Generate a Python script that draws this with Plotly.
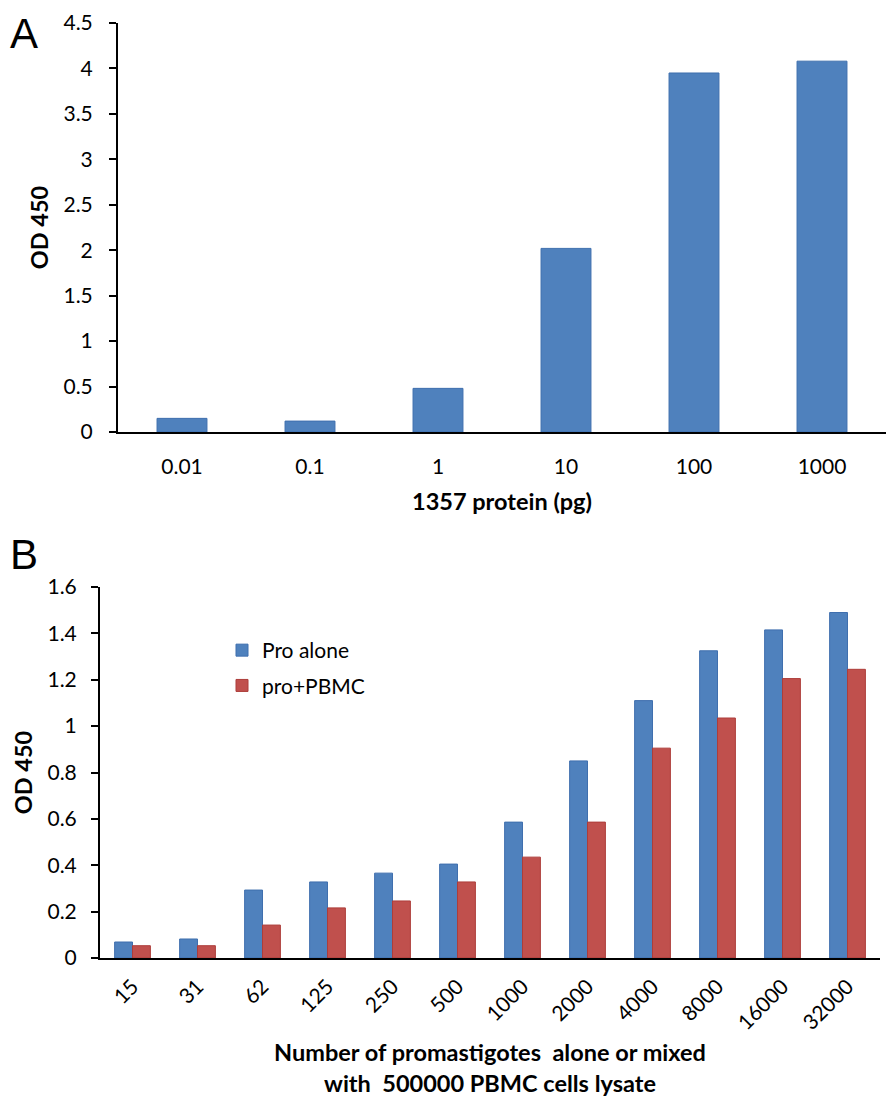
import plotly.graph_objects as go

# Panel A data
a_categories = ["0.01", "0.1", "1", "10", "100", "1000"]
a_values = [0.15, 0.12, 0.48, 2.02, 3.95, 4.08]

# Panel B data
b_categories = ["15", "31", "62", "125", "250", "500", "1000", "2000",
                "4000", "8000", "16000", "32000"]
b_pro_alone = [0.069, 0.082, 0.293, 0.328, 0.366, 0.405, 0.586, 0.85,
               1.11, 1.325, 1.415, 1.49]
b_pro_pbmc = [0.053, 0.053, 0.142, 0.216, 0.246, 0.328, 0.435, 0.586,
              0.905, 1.035, 1.205, 1.245]

BLUE = "#4f81bd"
BLUE_EDGE = "#3f6fae"
RED = "#c0504d"
RED_EDGE = "#ad3d3a"
FONT = "Lato"
TICK = 21
TITLE = 23.5

fig = go.Figure()

fig.add_trace(go.Bar(
    x=a_categories, y=a_values, xaxis="x", yaxis="y",
    marker=dict(color=BLUE, line=dict(color=BLUE_EDGE, width=1)),
    width=0.39, showlegend=False, name="OD 450",
))
fig.add_trace(go.Bar(
    x=b_categories, y=b_pro_alone, xaxis="x2", yaxis="y2",
    marker=dict(color=BLUE, line=dict(color=BLUE_EDGE, width=1)),
    name="Pro alone", legendgroup="g1",
))
fig.add_trace(go.Bar(
    x=b_categories, y=b_pro_pbmc, xaxis="x2", yaxis="y2",
    marker=dict(color=RED, line=dict(color=RED_EDGE, width=1)),
    name="pro+PBMC", legendgroup="g2",
))

# page has an 8px body margin; size the figure so it fits the window
OFF = 8
W, H = 894 - 2 * OFF, 1105 - 2 * OFF
def px_x(p):
    return (p - OFF) / W
def px_y(p):
    return 1 - (p - OFF) / H

axis_common = dict(
    showgrid=False, zeroline=False, showline=True, linecolor="black",
    linewidth=2, automargin=False,
    tickfont=dict(family=FONT, size=TICK, color="black"),
)
title_font = dict(family=FONT, size=TITLE, color="black")

fig.update_layout(
    width=W, height=H,
    margin=dict(l=0, r=0, t=0, b=0, autoexpand=False),
    paper_bgcolor="white", plot_bgcolor="white",
    barmode="group", bargap=0.45, bargroupgap=0.0,
    font=dict(family=FONT, color="black"),
    xaxis=dict(
        domain=[px_x(118), px_x(886)], anchor="y", ticks="",
        ticklabelstandoff=15,
        title=dict(text="<b>1357 protein (pg)</b>", standoff=16, font=title_font),
        **axis_common,
    ),
    yaxis=dict(
        domain=[px_y(432), px_y(23)], anchor="x", range=[0, 4.5],
        dtick=0.5, ticks="outside", ticklen=7, tickwidth=2, tickcolor="black",
        ticklabelstandoff=12,
        title=dict(text="<b>OD 450</b>", standoff=8, font=title_font),
        **axis_common,
    ),
    xaxis2=dict(
        domain=[px_x(100), px_x(880)], anchor="y2", ticks="", tickangle=-45,
        ticklabelstandoff=6,
        title=dict(text="<b>Number of promastigotes  alone or mixed<br>with  500000 PBMC cells lysate</b>",
                   standoff=31, font=title_font),
        **axis_common,
    ),
    yaxis2=dict(
        domain=[px_y(958), px_y(587)], anchor="x2", range=[0, 1.6],
        dtick=0.2, ticks="outside", ticklen=7, tickwidth=2, tickcolor="black",
        ticklabelstandoff=10,
        title=dict(text="<b>OD 450</b>", standoff=8, font=title_font),
        **axis_common,
    ),
    legend=dict(
        x=px_x(222), y=px_y(630), xanchor="left", yanchor="top",
        font=dict(family=FONT, size=TICK, color="black"),
        tracegroupgap=5, bgcolor="rgba(0,0,0,0)",
    ),
    annotations=[
        dict(text="A", x=0, y=1, xref="paper", yref="paper",
             xanchor="left", yanchor="top", showarrow=False,
             font=dict(family="Liberation Sans", size=42, color="black")),
        dict(text="B", x=0, y=px_y(529), xref="paper", yref="paper",
             xanchor="left", yanchor="top", showarrow=False,
             font=dict(family="Liberation Sans", size=42, color="black")),
    ],
)

fig.write_html("out.html")
